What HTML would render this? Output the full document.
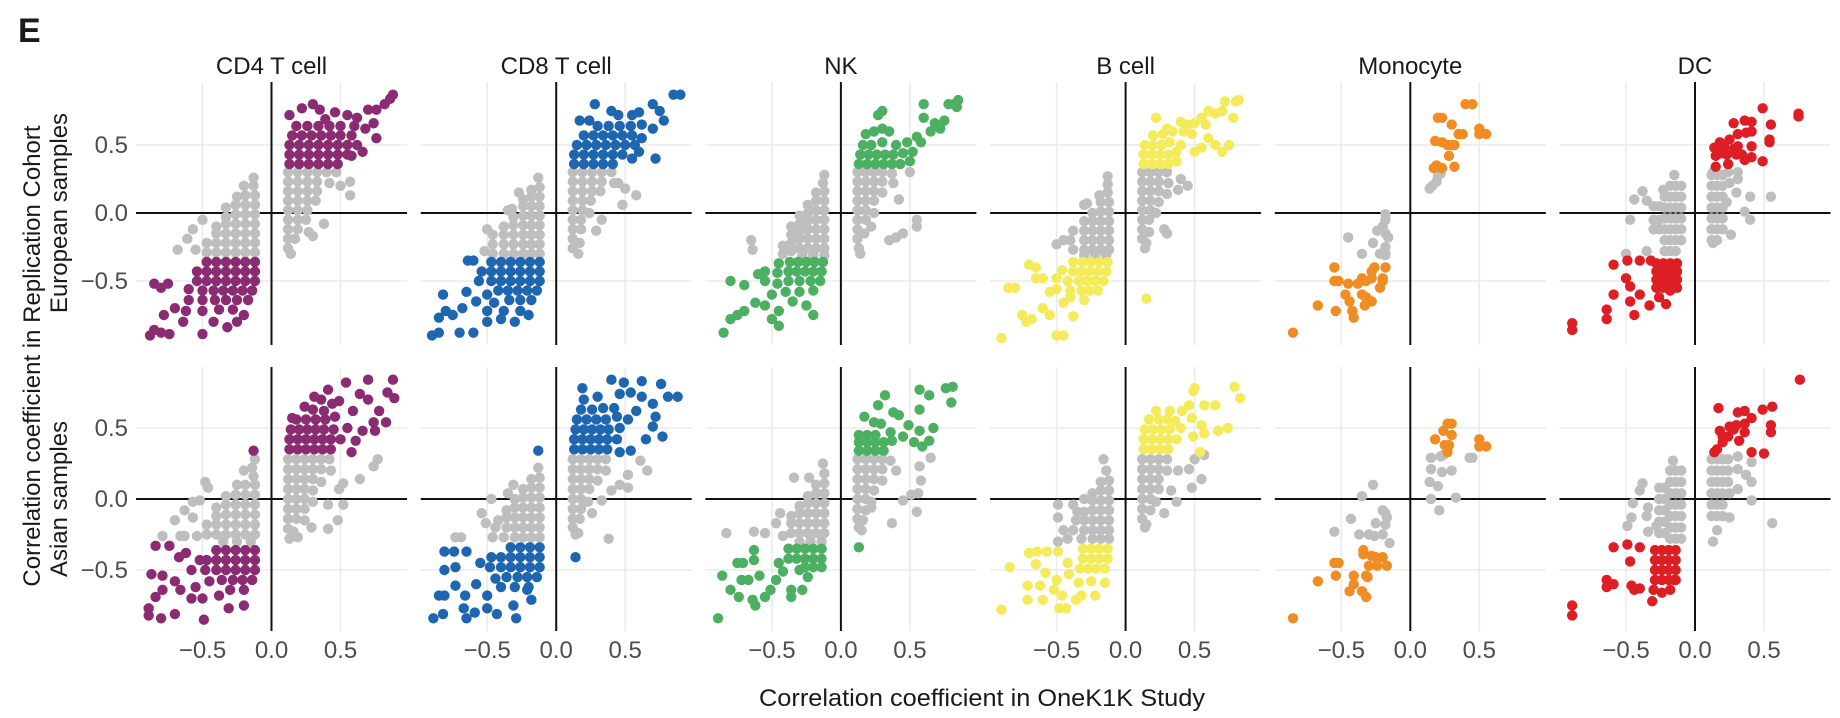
<!DOCTYPE html>
<html><head><meta charset="utf-8">
<style>
html,body{margin:0;padding:0;background:#fff;}
svg{display:block;font-family:"Liberation Sans",Arial,sans-serif;}
</style></head>
<body>
<svg id="chart" width="1840" height="718" viewBox="0 0 1840 718" xmlns="http://www.w3.org/2000/svg">
<text x="18" y="42" font-size="34" font-weight="bold" fill="#1a1a1a">E</text>
<text transform="translate(40,356) rotate(-90)" text-anchor="middle" font-size="24" fill="#1a1a1a">Correlation coefficient in Replication Cohort</text>
<text transform="translate(67,213) rotate(-90)" text-anchor="middle" font-size="24" fill="#1a1a1a">European samples</text>
<text transform="translate(67,499) rotate(-90)" text-anchor="middle" font-size="24" fill="#1a1a1a">Asian samples</text>
<text x="982" y="706" text-anchor="middle" font-size="24" textLength="446" lengthAdjust="spacingAndGlyphs" fill="#1a1a1a">Correlation coefficient in OneK1K Study</text>
</svg>
<script>
const panelNames = ["CD4 T cell","CD8 T cell","NK","B cell","Monocyte","DC"];
const panelColors = ["#8B2C72","#1F66B0","#4DAF62","#F3EB5B","#F08C24","#DD1E25"];
const threshold = 0.315;
const xTicks = [-0.5, 0, 0.5];
const xTickLabels = ["\u22120.5","0.0","0.5"];
const yTicks = [0.5, 0, -0.5];
const yTickLabels = ["0.5","0.0","\u22120.5"];
const rowNames = ["european","asian"];

const cd4Eur = [[.13,.36],[.2,.36],[.27,.36],[.34,.36],[.41,.36],[.48,.36],[.13,.43],[.2,.43],[.27,.43],[.34,.43],[.41,.43],[.48,.43],[.55,.43],[.13,.5],[.2,.5],[.27,.5],[.34,.5],[.41,.5],[.48,.5],[.55,.5],[.62,.5],[.15,.57],[.22,.57],[.29,.57],[.36,.57],[.43,.57],[.5,.57],[.58,.57],[.18,.64],[.26,.64],[.34,.64],[.42,.64],[.5,.64],[.6,.64],[.68,.62],[.13,.72],[.22,.77],[.3,.8],[.35,.76],[.46,.74],[.55,.72],[.62,.7],[.7,.76],[.76,.76],[.82,.8],[.86,.84],[.88,.87],[.39,.69],[.74,.66],[.66,.45],[.76,.55],[.58,.42],
[.12,.3],[.19,.3],[.26,.3],[.33,.3],[.4,.3],[.47,.3],[.12,.23],[.19,.23],[.26,.23],[.33,.23],[.42,.22],[.12,.16],[.19,.16],[.26,.16],[.33,.16],[.12,.09],[.19,.09],[.26,.09],[.32,.09],[.12,.02],[.19,.02],[.26,.02],[.12,-.05],[.19,-.05],[.25,-.05],[.12,-.12],[.19,-.12],[.12,-.19],[.17,-.19],[.12,-.26],[.14,-.3],[.57,.23],[.57,.13],[.38,-.08],[.3,-.17],[.27,-.14],[.5,.2],
[-.13,.26],[-.13,.2],[-.2,.2],[-.12,.13],[-.19,.13],[-.25,.12],[-.12,.06],[-.19,.06],[-.26,.06],[-.33,.04],[-.12,-.01],[-.19,-.01],[-.26,-.01],[-.33,-.03],[-.12,-.08],[-.19,-.08],[-.26,-.08],[-.33,-.08],[-.4,-.1],[-.12,-.15],[-.19,-.15],[-.26,-.15],[-.33,-.15],[-.4,-.15],[-.12,-.22],[-.19,-.22],[-.26,-.22],[-.33,-.22],[-.4,-.22],[-.47,-.22],[-.12,-.29],[-.19,-.29],[-.26,-.29],[-.33,-.29],[-.4,-.29],[-.47,-.29],[-.5,-.05],[-.57,-.12],[-.61,-.19],[-.68,-.27],[-.55,-.27],
[-.12,-.36],[-.19,-.36],[-.26,-.36],[-.33,-.36],[-.4,-.36],[-.47,-.36],[-.12,-.43],[-.19,-.43],[-.26,-.43],[-.33,-.43],[-.4,-.43],[-.47,-.43],[-.54,-.43],[-.12,-.5],[-.19,-.5],[-.26,-.5],[-.33,-.5],[-.4,-.5],[-.47,-.5],[-.54,-.5],[-.14,-.57],[-.21,-.57],[-.28,-.57],[-.35,-.57],[-.42,-.57],[-.5,-.57],[-.6,-.56],[-.17,-.64],[-.25,-.64],[-.33,-.64],[-.41,-.64],[-.5,-.64],[-.6,-.64],[-.28,-.71],[-.38,-.71],[-.5,-.72],[-.62,-.72],[-.7,-.7],[-.8,-.55],[-.85,-.52],[-.75,-.52],[-.78,-.75],[-.85,-.86],[-.8,-.88],[-.88,-.9],[-.74,-.89],[-.5,-.89],[-.32,-.84],[-.25,-.8],[-.2,-.75],[-.42,-.8],[-.64,-.8]];

const cd8Eur = [[.13,.36],[.2,.36],[.27,.36],[.34,.36],[.41,.36],[.13,.43],[.2,.43],[.27,.43],[.34,.43],[.41,.43],[.48,.43],[.15,.5],[.22,.5],[.29,.5],[.36,.5],[.43,.5],[.5,.5],[.57,.5],[.2,.57],[.27,.57],[.34,.57],[.41,.57],[.48,.57],[.55,.57],[.62,.55],[.3,.64],[.38,.64],[.46,.64],[.54,.64],[.62,.65],[.7,.62],[.17,.68],[.24,.68],[.28,.8],[.4,.75],[.45,.72],[.55,.72],[.6,.74],[.7,.8],[.75,.75],[.78,.68],[.85,.87],[.9,.87],[.6,.45],[.72,.4],[.55,.4],
[.12,.3],[.19,.3],[.26,.3],[.33,.3],[.4,.3],[.12,.23],[.19,.23],[.26,.23],[.33,.23],[.42,.22],[.12,.16],[.19,.16],[.26,.16],[.32,.16],[.12,.09],[.19,.09],[.25,.09],[.12,.02],[.19,.02],[.24,0],[.12,-.05],[.18,-.05],[.12,-.12],[.18,-.12],[.12,-.19],[.17,-.22],[.12,-.26],[.16,-.3],[.5,.18],[.58,.13],[.45,.22],[.48,.06],[.33,-.05],[.29,-.13],
[-.13,.26],[-.12,.19],[-.18,.17],[-.12,.12],[-.18,.12],[-.24,.1],[-.12,.05],[-.18,.05],[-.24,.05],[-.32,.03],[-.12,-.02],[-.18,-.02],[-.24,-.02],[-.31,-.03],[-.12,-.09],[-.18,-.09],[-.24,-.09],[-.31,-.09],[-.38,-.1],[-.12,-.16],[-.18,-.16],[-.24,-.16],[-.31,-.16],[-.38,-.16],[-.46,-.16],[-.12,-.23],[-.18,-.23],[-.24,-.23],[-.31,-.23],[-.38,-.23],[-.46,-.23],[-.12,-.3],[-.18,-.3],[-.24,-.3],[-.31,-.3],[-.38,-.3],[-.46,-.3],[-.27,.15],[-.35,.02],[-.5,-.12],[-.52,-.28],
[-.12,-.36],[-.19,-.36],[-.26,-.36],[-.33,-.36],[-.4,-.36],[-.47,-.36],[-.6,-.35],[-.64,-.35],[-.12,-.43],[-.19,-.43],[-.26,-.43],[-.33,-.43],[-.4,-.43],[-.47,-.43],[-.54,-.43],[-.12,-.5],[-.19,-.5],[-.26,-.5],[-.33,-.5],[-.4,-.5],[-.47,-.5],[-.56,-.5],[-.14,-.57],[-.21,-.57],[-.28,-.57],[-.35,-.57],[-.42,-.57],[-.5,-.6],[-.65,-.58],[-.18,-.64],[-.26,-.64],[-.34,-.64],[-.45,-.66],[-.58,-.65],[-.26,-.72],[-.38,-.72],[-.5,-.72],[-.68,-.7],[-.82,-.6],[-.8,-.72],[-.85,-.77],[-.75,-.75],[-.9,-.9],[-.85,-.88],[-.7,-.88],[-.6,-.88],[-.5,-.8],[-.4,-.78],[-.3,-.8],[-.2,-.75]];

const nkEur = [[.13,.36],[.19,.36],[.25,.36],[.31,.36],[.37,.36],[.43,.36],[.5,.38],[.14,.43],[.2,.43],[.26,.43],[.32,.43],[.38,.43],[.45,.44],[.52,.45],[.16,.5],[.22,.5],[.3,.52],[.4,.5],[.48,.52],[.58,.52],[.27,.72],[.3,.75],[.3,.62],[.35,.6],[.55,.56],[.65,.6],[.68,.66],[.72,.62],[.6,.7],[.6,.8],[.78,.8],[.82,.8],[.85,.83],[.84,.78],[.75,.68],[.18,.58],[.24,.6],
[.12,.3],[.18,.3],[.24,.3],[.3,.3],[.37,.29],[.12,.23],[.18,.23],[.24,.23],[.3,.23],[.38,.22],[.12,.16],[.18,.16],[.24,.16],[.3,.15],[.12,.09],[.18,.09],[.24,.09],[.12,.02],[.18,.02],[.24,0],[.12,-.05],[.18,-.05],[.22,-.1],[.12,-.12],[.17,-.15],[.12,-.19],[.13,-.26],[.14,-.3],[.5,.3],[.55,-.05],[.55,-.1],[.45,-.15],[.35,-.2],[.4,-.18],[.42,.1],
[-.12,.28],[-.13,.22],[-.12,.16],[-.18,.15],[-.12,.09],[-.18,.09],[-.24,.06],[-.12,.02],[-.18,.02],[-.24,0],[-.3,-.02],[-.12,-.05],[-.18,-.05],[-.24,-.06],[-.3,-.08],[-.36,-.1],[-.12,-.12],[-.18,-.12],[-.24,-.12],[-.3,-.14],[-.36,-.16],[-.12,-.19],[-.18,-.19],[-.24,-.19],[-.3,-.19],[-.36,-.22],[-.42,-.24],[-.12,-.26],[-.18,-.26],[-.24,-.26],[-.3,-.26],[-.36,-.28],[-.42,-.3],[-.12,-.31],[-.2,-.31],[-.28,-.31],[-.65,-.2],[-.64,-.27],
[-.13,-.36],[-.19,-.36],[-.25,-.36],[-.31,-.36],[-.37,-.36],[-.45,-.37],[-.14,-.43],[-.2,-.43],[-.26,-.43],[-.32,-.43],[-.38,-.43],[-.46,-.44],[-.55,-.43],[-.15,-.5],[-.22,-.5],[-.3,-.5],[-.38,-.5],[-.46,-.52],[-.55,-.5],[-.2,-.57],[-.3,-.58],[-.4,-.58],[-.5,-.6],[-.6,-.45],[-.7,-.53],[-.8,-.5],[-.25,-.68],[-.2,-.75],[-.35,-.65],[-.45,-.72],[-.5,-.78],[-.45,-.83],[-.55,-.68],[-.62,-.66],[-.7,-.72],[-.75,-.75],[-.8,-.78],[-.85,-.88]];

const bEur = [[.13,.36],[.19,.36],[.25,.36],[.31,.36],[.37,.38],[.13,.43],[.19,.43],[.25,.43],[.31,.43],[.37,.45],[.14,.5],[.2,.5],[.26,.5],[.32,.52],[.4,.5],[.2,.57],[.27,.58],[.34,.6],[.42,.6],[.5,.45],[.55,.48],[.6,.55],[.65,.5],[.7,.45],[.75,.5],[.22,.7],[.3,.62],[.45,.65],[.5,.66],[.55,.7],[.58,.65],[.6,.75],[.65,.73],[.7,.75],[.72,.82],[.8,.82],[.82,.83],[.78,.7],[.4,.67],[.48,.58],[.15,-.63],
[.12,.3],[.18,.3],[.24,.3],[.3,.3],[.12,.23],[.18,.23],[.24,.23],[.31,.22],[.12,.16],[.18,.16],[.24,.16],[.3,.14],[.12,.09],[.18,.09],[.24,.08],[.12,.02],[.18,.02],[.22,0],[.12,-.05],[.17,-.05],[.12,-.12],[.17,-.14],[.12,-.19],[.15,-.22],[.14,-.26],[.45,.2],[.4,.25],[.38,.17],[.3,-.15],[.28,-.12],
[-.13,.27],[-.13,.21],[-.13,.15],[-.19,.13],[-.12,.08],[-.18,.08],[-.28,.07],[-.3,.06],[-.12,.01],[-.18,.01],[-.24,0],[-.12,-.06],[-.18,-.06],[-.24,-.06],[-.3,-.06],[-.12,-.13],[-.18,-.13],[-.24,-.13],[-.3,-.13],[-.38,-.13],[-.12,-.2],[-.18,-.2],[-.24,-.2],[-.3,-.2],[-.4,-.2],[-.45,-.2],[-.12,-.27],[-.18,-.27],[-.24,-.27],[-.3,-.27],[-.38,-.27],[-.14,-.31],[-.22,-.31],[-.3,-.31],[-.5,-.23],
[-.13,-.36],[-.19,-.36],[-.25,-.36],[-.31,-.36],[-.38,-.36],[-.14,-.43],[-.2,-.43],[-.26,-.43],[-.32,-.43],[-.38,-.43],[-.46,-.42],[-.16,-.5],[-.22,-.5],[-.28,-.5],[-.34,-.5],[-.42,-.5],[-.5,-.48],[-.2,-.57],[-.26,-.57],[-.32,-.57],[-.4,-.57],[-.5,-.56],[-.3,-.64],[-.4,-.62],[-.45,-.66],[-.9,-.92],[-.8,-.55],[-.85,-.55],[-.7,-.38],[-.65,-.4],[-.65,-.48],[-.6,-.48],[-.75,-.75],[-.72,-.8],[-.68,-.78],[-.5,-.9],[-.45,-.9],[-.38,-.76],[-.6,-.7],[-.55,-.58],[-.55,-.75]];

const monoEur = [[.4,.8],[.45,.8],[.2,.7],[.23,.7],[.3,.65],[.5,.62],[.5,.58],[.55,.58],[.35,.58],[.38,.58],[.18,.53],[.23,.52],[.27,.5],[.3,.5],[.32,.5],[.28,.42],[.19,.35],[.17,.33],[.23,.33],[.32,.34],[.2,.27],[.16,.2],[.14,.18],[.19,.23],[.22,.29],
[-.18,-.05],[-.18,-.01],[-.2,-.1],[-.24,-.13],[-.18,-.15],[-.16,-.18],[-.45,-.18],[-.27,-.22],[-.18,-.25],[-.35,-.3],[-.18,-.3],[-.22,-.3],[-.18,-.31],[-.55,-.4],[-.18,-.4],[-.28,-.43],[-.26,-.4],[-.55,-.5],[-.52,-.5],[-.35,-.48],[-.32,-.5],[-.28,-.48],[-.2,-.48],[-.2,-.5],[-.45,-.52],[-.38,-.52],[-.22,-.55],[-.47,-.6],[-.35,-.6],[-.32,-.62],[-.44,-.65],[-.28,-.65],[-.33,-.68],[-.67,-.68],[-.54,-.72],[-.42,-.72],[-.41,-.77],[-.85,-.88]];

const dcEur = [[.49,.77],[.75,.71],[.75,.73],[.28,.66],[.36,.68],[.41,.67],[.55,.65],[.31,.58],[.37,.59],[.41,.6],[.54,.54],[.54,.52],[.18,.52],[.25,.54],[.14,.48],[.21,.49],[.31,.49],[.41,.49],[.15,.42],[.23,.43],[.3,.43],[.41,.41],[.36,.39],[.49,.38],[.15,.34],[.24,.36],[.19,.44],[.28,.47],[.34,.43],
[.13,.3],[.12,.28],[.16,.28],[.2,.28],[.12,.2],[.16,.2],[.2,.2],[.12,.12],[.16,.12],[.2,.12],[.12,.04],[.16,.04],[.2,.04],[.12,-.04],[.16,-.04],[.2,-.04],[.12,-.12],[.16,-.12],[.2,-.12],[.12,-.2],[.16,-.2],[.31,.3],[.31,.25],[.3,.15],[.4,.12],[.55,.12],[.36,.01],[.4,-.05],[.26,-.16],[.13,-.22],[.23,.08],[.25,.22],[.24,.3],
[-.15,.28],[-.23,.17],[-.38,.16],[-.44,.1],[-.35,.09],[-.47,-.05],[-.35,-.28],[-.5,-.3],[-.1,.2],[-.14,.2],[-.18,.2],[-.1,.12],[-.14,.12],[-.18,.12],[-.22,.12],[-.1,.04],[-.14,.04],[-.18,.04],[-.22,.04],[-.1,-.04],[-.14,-.04],[-.18,-.04],[-.22,-.04],[-.1,-.12],[-.14,-.12],[-.18,-.12],[-.22,-.12],[-.1,-.2],[-.14,-.2],[-.18,-.2],[-.22,-.2],[-.14,-.28],[-.18,-.28],[-.22,-.28],[-.26,.05],[-.3,.05],[-.26,-.05],[-.3,-.05],[-.26,-.12],[-.3,-.12],
[-.59,-.38],[-.49,-.35],[-.4,-.35],[-.32,-.35],[-.13,-.37],[-.18,-.37],[-.23,-.37],[-.28,-.37],[-.13,-.43],[-.18,-.43],[-.23,-.43],[-.28,-.43],[-.13,-.49],[-.18,-.49],[-.23,-.49],[-.28,-.49],[-.13,-.55],[-.18,-.55],[-.23,-.55],[-.28,-.55],[-.5,-.48],[-.47,-.54],[-.59,-.6],[-.4,-.6],[-.47,-.65],[-.33,-.68],[-.21,-.67],[-.26,-.62],[-.18,-.57],[-.64,-.71],[-.64,-.78],[-.44,-.75],[-.89,-.81],[-.89,-.86]];

const cd4Asian = [[.13,.35],[.19,.35],[.25,.35],[.31,.35],[.37,.35],[.43,.35],[.13,.42],[.19,.42],[.25,.42],[.31,.42],[.37,.42],[.43,.42],[.5,.42],[.14,.49],[.2,.49],[.26,.49],[.32,.49],[.38,.49],[.45,.49],[.55,.5],[.18,.56],[.25,.56],[.32,.56],[.39,.56],[.46,.58],[.3,.63],[.38,.62],[.88,.84],[.7,.84],[.54,.82],[.84,.75],[.89,.71],[.64,.74],[.41,.77],[.31,.72],[.49,.69],[.78,.62],[.83,.54],[.74,.54],[.75,.48],[.24,.65],[.66,.48],[.61,.41],[.58,.33],[.15,.57],[.44,.67],[.59,.62],[.7,.7],[.36,.7],
[.12,.28],[.18,.28],[.24,.28],[.3,.28],[.36,.28],[.42,.28],[.12,.21],[.18,.21],[.24,.21],[.3,.21],[.36,.21],[.43,.2],[.12,.14],[.18,.14],[.24,.14],[.3,.14],[.36,.12],[.12,.07],[.18,.07],[.24,.07],[.3,.06],[.12,0],[.18,0],[.24,0],[.3,-.02],[.12,-.07],[.18,-.07],[.24,-.07],[.12,-.14],[.18,-.14],[.24,-.15],[.12,-.21],[.16,-.23],[.13,-.28],[.77,.28],[.74,.23],[.64,.14],[.52,.11],[.49,.07],[.41,-.04],[.52,-.04],[.48,-.15],[.41,-.21],[.29,-.2],[.19,-.27],
[-.12,.28],[-.14,.22],[-.13,.16],[-.2,.2],[-.12,.1],[-.19,.1],[-.25,.1],[-.12,.03],[-.19,.03],[-.26,.03],[-.33,.02],[-.12,-.04],[-.19,-.04],[-.26,-.04],[-.33,-.04],[-.4,-.06],[-.12,-.11],[-.19,-.11],[-.26,-.11],[-.33,-.11],[-.4,-.12],[-.12,-.18],[-.19,-.18],[-.26,-.18],[-.33,-.18],[-.4,-.18],[-.47,-.18],[-.12,-.25],[-.19,-.25],[-.26,-.25],[-.33,-.25],[-.4,-.25],[-.47,-.25],[-.54,-.26],[-.15,-.3],[-.25,-.3],[-.35,-.3],[-.48,.12],[-.46,.08],[-.57,-.02],[-.63,-.08],[-.7,-.15],[-.79,-.26],[-.66,-.26],[-.63,-.26],[-.52,-.01],[-.57,-.13],
[-.13,.34],[-.12,-.36],[-.19,-.36],[-.26,-.36],[-.33,-.36],[-.4,-.36],[-.12,-.43],[-.19,-.43],[-.26,-.43],[-.33,-.43],[-.4,-.43],[-.47,-.43],[-.12,-.5],[-.19,-.5],[-.26,-.5],[-.33,-.5],[-.4,-.5],[-.48,-.5],[-.14,-.57],[-.21,-.57],[-.28,-.57],[-.36,-.57],[-.45,-.58],[-.2,-.64],[-.3,-.64],[-.84,-.33],[-.74,-.33],[-.87,-.53],[-.79,-.54],[-.7,-.58],[-.79,-.64],[-.84,-.69],[-.89,-.77],[-.89,-.82],[-.8,-.84],[-.7,-.81],[-.49,-.85],[-.31,-.77],[-.2,-.75],[-.58,-.7],[-.66,-.64],[-.5,-.7],[-.38,-.68],[-.67,-.41],[-.62,-.38],[-.52,-.43],[-.58,-.5],[-.55,-.62]];

const cd8Asian = [[.13,.35],[.19,.35],[.25,.35],[.31,.35],[.37,.35],[.13,.42],[.19,.42],[.25,.42],[.31,.42],[.37,.42],[.44,.42],[.14,.49],[.2,.49],[.26,.49],[.32,.49],[.38,.49],[.46,.5],[.15,.56],[.22,.56],[.29,.56],[.36,.56],[.44,.58],[.52,.56],[.18,.63],[.26,.63],[.34,.64],[.42,.64],[.4,.84],[.49,.82],[.62,.83],[.76,.81],[.81,.72],[.88,.72],[.19,.78],[.54,.75],[.46,.74],[.62,.72],[.7,.67],[.72,.58],[.7,.51],[.77,.44],[.65,.42],[.54,.34],[.46,.33],[.14,-.41],[.2,.7],[.3,.72],[.58,.62],
[.12,.28],[.18,.28],[.24,.28],[.3,.28],[.36,.28],[.12,.21],[.18,.21],[.24,.21],[.3,.21],[.36,.2],[.12,.14],[.18,.14],[.24,.14],[.3,.13],[.12,.07],[.18,.07],[.24,.07],[.12,0],[.18,0],[.23,-.02],[.12,-.07],[.18,-.07],[.12,-.14],[.17,-.14],[.12,-.2],[.14,-.25],[.66,.2],[.61,.27],[.52,.17],[.52,.08],[.46,.1],[.4,.06],[.33,-.01],[.38,-.28],[.26,-.1],[.16,-.24],
[-.13,.34],[-.13,.22],[-.12,.15],[-.18,.14],[-.12,.08],[-.18,.08],[-.24,.07],[-.12,.01],[-.18,.01],[-.24,.01],[-.3,0],[-.12,-.06],[-.18,-.06],[-.24,-.06],[-.3,-.06],[-.36,-.08],[-.12,-.13],[-.18,-.13],[-.24,-.13],[-.3,-.13],[-.36,-.13],[-.42,-.15],[-.12,-.2],[-.18,-.2],[-.24,-.2],[-.3,-.2],[-.36,-.2],[-.44,-.2],[-.12,-.27],[-.18,-.27],[-.24,-.27],[-.3,-.27],[-.38,-.27],[-.46,-.27],[-.73,-.27],[-.69,-.27],[-.54,-.1],[-.51,-.17],[-.47,0],[-.31,.1],[-.35,.04],
[-.12,-.34],[-.19,-.34],[-.26,-.34],[-.33,-.34],[-.12,-.41],[-.19,-.41],[-.26,-.41],[-.33,-.41],[-.4,-.41],[-.47,-.41],[-.12,-.48],[-.19,-.48],[-.26,-.48],[-.33,-.48],[-.4,-.48],[-.48,-.48],[-.14,-.55],[-.21,-.55],[-.28,-.55],[-.36,-.55],[-.44,-.56],[-.2,-.62],[-.3,-.62],[-.4,-.62],[-.89,-.84],[-.82,-.81],[-.85,-.68],[-.81,-.68],[-.81,-.5],[-.81,-.37],[-.74,-.37],[-.65,-.37],[-.73,-.48],[-.73,-.61],[-.66,-.68],[-.67,-.77],[-.65,-.84],[-.59,-.8],[-.43,-.81],[-.29,-.84],[-.31,-.75],[-.5,-.77],[-.18,-.71],[-.21,-.64],[-.55,-.45],[-.58,-.6],[-.5,-.68]];

const nkAsian = [[.81,.79],[.76,.78],[.8,.68],[.57,.77],[.64,.73],[.57,.63],[.32,.73],[.27,.66],[.38,.61],[.42,.59],[.17,.58],[.24,.54],[.29,.53],[.36,.47],[.49,.52],[.57,.48],[.67,.5],[.64,.41],[.53,.4],[.45,.44],[.37,.41],[.59,.37],[.13,.34],[.19,.34],[.25,.34],[.31,.34],[.13,.4],[.19,.4],[.25,.4],[.31,.4],[.13,.45],[.19,.45],[.25,.45],[.13,-.34],
[.12,.28],[.18,.28],[.24,.28],[.3,.28],[.36,.27],[.12,.21],[.18,.21],[.24,.21],[.3,.21],[.12,.14],[.18,.14],[.24,.14],[.3,.13],[.12,.07],[.18,.07],[.24,.06],[.12,0],[.18,0],[.22,-.02],[.12,-.07],[.18,-.08],[.12,-.14],[.16,-.15],[.13,-.2],[.65,.29],[.57,.23],[.58,.13],[.56,.04],[.51,.03],[.55,-.09],[.45,-.01],[.37,-.17],[.22,-.06],[.15,-.22],[.4,.2],
[-.13,.25],[-.12,.18],[-.12,.11],[-.18,.1],[-.12,.04],[-.18,.04],[-.24,.02],[-.12,-.03],[-.18,-.03],[-.24,-.03],[-.3,-.05],[-.12,-.1],[-.18,-.1],[-.24,-.1],[-.3,-.1],[-.36,-.12],[-.12,-.17],[-.18,-.17],[-.24,-.17],[-.3,-.17],[-.36,-.17],[-.12,-.24],[-.18,-.24],[-.24,-.24],[-.3,-.24],[-.36,-.24],[-.42,-.26],[-.14,-.3],[-.22,-.3],[-.3,-.3],[-.83,-.24],[-.63,-.23],[-.55,-.24],[-.34,.15],[-.23,.15],[-.47,-.17],[-.44,-.1],
[-.14,-.35],[-.2,-.35],[-.26,-.35],[-.32,-.35],[-.38,-.35],[-.14,-.42],[-.2,-.42],[-.26,-.42],[-.32,-.42],[-.38,-.42],[-.14,-.48],[-.2,-.48],[-.26,-.48],[-.86,-.54],[-.75,-.45],[-.71,-.45],[-.63,-.36],[-.63,-.43],[-.72,-.57],[-.67,-.57],[-.59,-.54],[-.8,-.64],[-.74,-.69],[-.64,-.71],[-.62,-.75],[-.55,-.69],[-.51,-.64],[-.47,-.57],[-.42,-.51],[-.36,-.64],[-.36,-.69],[-.28,-.64],[-.24,-.55],[-.3,-.5],[-.89,-.84],[-.45,-.45]];

const bAsian = [[.79,.79],[.83,.71],[.49,.76],[.5,.78],[.46,.66],[.65,.66],[.57,.66],[.32,.62],[.22,.62],[.41,.62],[.48,.57],[.55,.52],[.67,.48],[.74,.5],[.57,.46],[.49,.44],[.54,.33],[.13,.35],[.19,.35],[.25,.35],[.31,.35],[.13,.42],[.19,.42],[.25,.42],[.31,.42],[.37,.42],[.14,.49],[.2,.49],[.26,.49],[.32,.49],[.4,.5],[.17,.56],[.24,.56],[.3,.56],[.36,.55],
[.12,.28],[.18,.28],[.24,.28],[.3,.28],[.12,.21],[.18,.21],[.24,.21],[.3,.2],[.12,.14],[.18,.14],[.24,.14],[.12,.07],[.18,.07],[.24,.07],[.12,0],[.18,0],[.22,-.02],[.12,-.07],[.18,-.08],[.12,-.14],[.15,-.18],[.57,.31],[.5,.28],[.46,.21],[.55,.14],[.48,.08],[.37,-.02],[.28,-.1],[.14,-.2],[.33,.06],[.38,.2],
[-.16,.28],[-.14,.2],[-.12,.13],[-.18,.12],[-.12,.06],[-.18,.06],[-.24,.04],[-.12,-.01],[-.18,-.01],[-.24,-.01],[-.3,0],[-.12,-.08],[-.18,-.08],[-.24,-.08],[-.3,-.09],[-.12,-.15],[-.18,-.15],[-.24,-.15],[-.3,-.15],[-.36,-.15],[-.12,-.22],[-.18,-.22],[-.24,-.22],[-.3,-.22],[-.38,-.22],[-.12,-.28],[-.18,-.28],[-.24,-.28],[-.32,-.28],[-.49,-.04],[-.38,-.04],[-.49,-.13],[-.35,-.09],[-.49,-.3],[-.45,-.22],[-.42,-.28],
[-.13,-.35],[-.19,-.35],[-.25,-.35],[-.31,-.35],[-.13,-.42],[-.19,-.42],[-.25,-.42],[-.31,-.42],[-.15,-.49],[-.21,-.49],[-.27,-.49],[-.33,-.49],[-.9,-.78],[-.84,-.48],[-.7,-.38],[-.64,-.37],[-.57,-.37],[-.49,-.37],[-.65,-.46],[-.71,-.61],[-.62,-.61],[-.58,-.52],[-.5,-.57],[-.52,-.64],[-.46,-.68],[-.71,-.71],[-.6,-.71],[-.48,-.77],[-.43,-.77],[-.36,-.71],[-.32,-.68],[-.22,-.68],[-.34,-.59],[-.41,-.53],[-.42,-.45],[-.15,-.59],[-.25,-.58]];

const monoAsian = [[.27,.53],[.3,.53],[.24,.48],[.3,.45],[.18,.42],[.25,.38],[.28,.38],[.27,.33],[.5,.42],[.5,.37],[.55,.37],[.15,.29],[.22,.3],[.24,.31],[.43,.29],[.45,.29],[.15,.21],[.23,.19],[.3,.2],[.14,.12],[.2,.09],[.15,0],[.33,.01],[.21,-.08],
[-.27,.1],[-.35,.02],[-.2,-.08],[-.18,-.1],[-.17,-.13],[-.43,-.14],[-.25,-.17],[-.18,-.18],[-.55,-.23],[-.37,-.25],[-.3,-.25],[-.26,-.26],[-.2,-.25],[-.15,-.31],[-.34,-.36],[-.34,-.39],[-.28,-.4],[-.25,-.41],[-.2,-.41],[-.55,-.45],[-.52,-.45],[-.3,-.47],[-.24,-.47],[-.17,-.47],[-.54,-.54],[-.41,-.54],[-.32,-.54],[-.31,-.55],[-.67,-.58],[-.41,-.6],[-.44,-.65],[-.35,-.65],[-.32,-.69],[-.85,-.84]];

const dcAsian = [[.76,.84],[.17,.64],[.31,.61],[.36,.62],[.41,.57],[.49,.63],[.56,.65],[.36,.53],[.3,.52],[.25,.51],[.55,.52],[.55,.47],[.18,.48],[.36,.47],[.24,.44],[.32,.41],[.2,.4],[.16,.35],[.41,.33],[.28,.49],[.2,.44],[.14,.33],
[.12,.28],[.16,.28],[.2,.28],[.24,.28],[.12,.2],[.16,.2],[.2,.2],[.24,.2],[.12,.12],[.16,.12],[.2,.12],[.24,.12],[.12,.04],[.16,.04],[.2,.04],[.12,-.04],[.16,-.04],[.2,-.04],[.12,-.12],[.16,-.12],[.2,-.12],[.5,.32],[.41,.26],[.31,.3],[.31,.21],[.37,.17],[.41,.12],[.31,.07],[.41,-.01],[.25,-.13],[.56,-.17],[.16,-.22],[.13,-.3],[.25,.04],
[-.16,.27],[-.1,.2],[-.14,.2],[-.18,.2],[-.1,.12],[-.14,.12],[-.18,.12],[-.1,.04],[-.14,.04],[-.18,.04],[-.1,-.04],[-.14,-.04],[-.18,-.04],[-.1,-.12],[-.14,-.12],[-.18,-.12],[-.1,-.2],[-.14,-.2],[-.18,-.2],[-.1,-.28],[-.14,-.28],[-.18,-.28],[-.22,.08],[-.26,.08],[-.22,0],[-.26,0],[-.22,-.08],[-.26,-.08],[-.22,-.16],[-.26,-.16],[-.22,-.24],[-.26,-.24],[-.38,.11],[-.4,.06],[-.45,-.03],[-.46,-.13],[-.49,-.19],[-.34,-.06],[-.35,-.12],[-.34,-.23],[-.28,-.19],
[-.14,-.36],[-.19,-.36],[-.24,-.36],[-.29,-.36],[-.14,-.43],[-.19,-.43],[-.24,-.43],[-.29,-.43],[-.14,-.5],[-.19,-.5],[-.24,-.5],[-.29,-.5],[-.14,-.57],[-.19,-.57],[-.24,-.57],[-.29,-.57],[-.59,-.34],[-.49,-.32],[-.4,-.34],[-.47,-.44],[-.64,-.57],[-.64,-.62],[-.59,-.6],[-.46,-.61],[-.44,-.64],[-.4,-.63],[-.3,-.64],[-.24,-.66],[-.18,-.64],[-.31,-.72],[-.15,-.57],[-.89,-.75],[-.89,-.82]];

const eurPoints = [cd4Eur, cd8Eur, nkEur, bEur, monoEur, dcEur];
const asianPoints = [cd4Asian, cd8Asian, nkAsian, bAsian, monoAsian, dcAsian];

const NS = "http://www.w3.org/2000/svg";
const svg = document.getElementById("chart");
const panelLeft0 = 136, panelStep = 284.7, panelW = 271, xUnit = 138;
const rows = [{top:82, bottom:345, y0:213, unit:136}, {top:367, bottom:631, y0:499, unit:142}];
const xScale = (i, v) => panelLeft0 + i * panelStep + panelW / 2 + v * xUnit;
const yScale = (r, v) => rows[r].y0 - v * rows[r].unit;

function mk(tag, attrs) {
  const el = document.createElementNS(NS, tag);
  for (const k in attrs) el.setAttribute(k, attrs[k]);
  return el;
}

const allRows = [eurPoints, asianPoints];
panelNames.forEach((name, i) => {
  const L = panelLeft0 + i * panelStep;
  const strip = mk("text", {x: L + panelW / 2, y: 74, "text-anchor": "middle", "font-size": 24, fill: "#1a1a1a"});
  
  
  strip.textContent = name;
  svg.appendChild(strip);
  allRows.forEach((rowData, r) => {
    const R = rows[r];
    const g = mk("g", {});
    
    
    svg.appendChild(g);
    xTicks.forEach(t => {
      if (t === 0) return;
      const ln = mk("line", {x1: xScale(i, t), x2: xScale(i, t), y1: R.top, y2: R.bottom, stroke: "#EBEBEB", "stroke-width": 1.6});
      
      
      g.appendChild(ln);
    });
    yTicks.forEach(t => {
      if (t === 0) return;
      const ln = mk("line", {x1: L, x2: L + panelW, y1: yScale(r, t), y2: yScale(r, t), stroke: "#EBEBEB", "stroke-width": 1.6});
      
      
      g.appendChild(ln);
    });
    const vz = mk("line", {x1: xScale(i, 0), x2: xScale(i, 0), y1: R.top, y2: R.bottom, stroke: "#111", "stroke-width": 2});
    
    
    g.appendChild(vz);
    const hz = mk("line", {x1: L, x2: L + panelW, y1: yScale(r, 0), y2: yScale(r, 0), stroke: "#111", "stroke-width": 2});
    
    
    g.appendChild(hz);
    const pts = rowData[i];
    const sorted = pts.filter(p => Math.abs(p[1]) <= threshold).concat(pts.filter(p => Math.abs(p[1]) > threshold));
    sorted.forEach(p => {
      const sig = Math.abs(p[1]) > threshold;
      const c = mk("circle", {cx: xScale(i, p[0]), cy: yScale(r, p[1]), r: 5.2, fill: sig ? panelColors[i] : "#BEBEBE"});
      
      
      g.appendChild(c);
    });
    if (i === 0) {
      yTicks.forEach((t, k) => {
        const tx = mk("text", {x: 128, y: yScale(r, t) + 8, "text-anchor": "end", "font-size": 24, fill: "#4D4D4D"});
        
        
        tx.textContent = yTickLabels[k];
        svg.appendChild(tx);
      });
    }
    if (r === 1) {
      xTicks.forEach((t, k) => {
        const tx = mk("text", {x: xScale(i, t), y: 658, "text-anchor": "middle", "font-size": 24, fill: "#4D4D4D"});
        
        
        tx.textContent = xTickLabels[k];
        svg.appendChild(tx);
      });
    }
  });
});
</script>
</body></html>
